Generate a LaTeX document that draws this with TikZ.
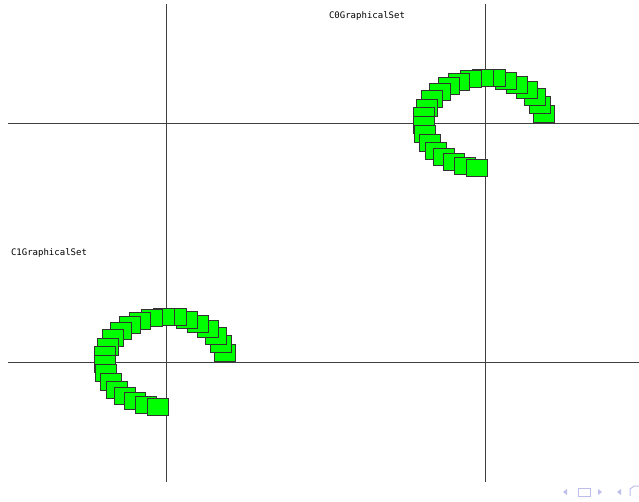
\documentclass[tikz,border=0pt]{standalone}
\usepackage{fontspec}
\newfontfamily\monofont{DejaVu Sans Mono}
\usepackage{tikz}
\usetikzlibrary{positioning,calc}

\definecolor{cellgreen}{RGB}{0,255,0}
\definecolor{navblue}{RGB}{190,190,236}

\tikzset{
	axis/.style={draw=black!75,line width=1pt},
	cell/.style={rectangle,draw=black!80,line width=1pt,fill=cellgreen,minimum width=21pt,minimum height=17pt,inner sep=0pt},
	setname/.style={font=\monofont\fontsize{9}{9}\selectfont,inner sep=0pt}
}

\begin{document}
\begin{tikzpicture}[x=1pt,y=-1pt]
	
	\useasboundingbox (0,0) rectangle (639,501);
	
	% origins of the two sets
	\coordinate (o0) at (484.5,123);
	\coordinate (o1) at (165.5,362);
	
	% axes
	\draw[axis] (8,123) -- (639,123);
	\draw[axis] (485,4) -- (485,482);
	\draw[axis] (8,362) -- (639,362);
	\draw[axis] (166,4) -- (166,482);
	
	% C0 set
	\foreach \i in {0,...,22}{
		\pgfmathsetmacro{\ang}{12+\i*11.4}
		\node[cell] (c0\i) at ($(o0)+({61*cos(\ang)},{-45.5*sin(\ang)})$) {};
	}
	
	% C1 set
	\foreach \i in {0,...,22}{
		\pgfmathsetmacro{\ang}{12+\i*11.4}
		\node[cell] (c1\i) at ($(o1)+({61*cos(\ang)},{-45.5*sin(\ang)})$) {};
	}
	
	\node[setname] (n0) at (367,16) {C0GraphicalSet};
	\node[setname] (n1) at (49,253) {C1GraphicalSet};
	
	% navigation
	\fill[navblue] (563,492) -- (567,489) -- (567,495) -- cycle;
	\draw[navblue,line width=1pt] (578,488) rectangle (590,496);
	\fill[navblue] (602,492) -- (598,489) -- (598,495) -- cycle;
	\fill[navblue] (617,492) -- (621,489) -- (621,495) -- cycle;
	\draw[navblue,line width=1pt] (630,496) -- (630,489) -- (634,486) -- (639,486);
	
\end{tikzpicture}
\end{document}
